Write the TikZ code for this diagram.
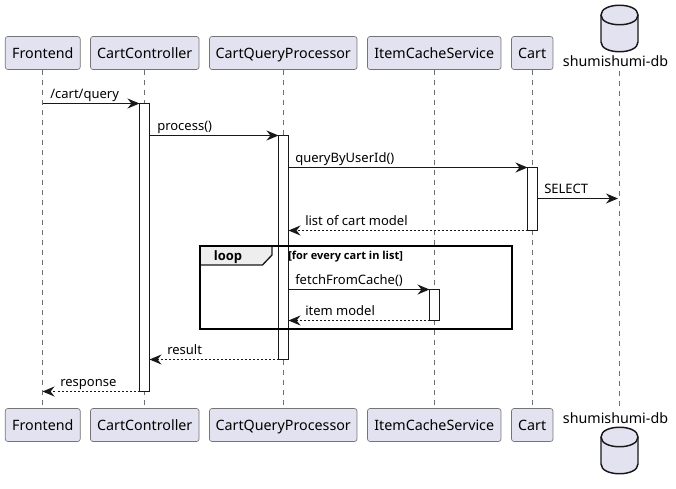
\documentclass[tikz,border=0pt]{standalone}
\usepackage{fontspec}
\setmainfont{Noto Sans}
\newfontfamily\boldface{Open Sans}[UprightFont=* Bold]
\usetikzlibrary{arrows.meta,positioning}
\definecolor{partfill}{HTML}{E2E2F0}
\definecolor{ink}{HTML}{181818}
\definecolor{tabfill}{HTML}{EEEEEE}
\definecolor{lifegray}{HTML}{707070}
\tikzset{
  x=0.75pt,y=-0.75pt,
  part/.style={draw=ink!60,line width=0.5pt,fill=partfill,rounded corners=1.9pt,minimum height=24.75pt,inner sep=0pt,text height=10pt,text depth=2.5pt,font=\fontsize{10.7pt}{12pt}\selectfont,text=black},
  dbshape/.style={draw=ink,line width=1.1pt,fill=partfill},
  dblabel/.style={font=\fontsize{10.7pt}{12pt}\selectfont,text=black,inner sep=0pt,anchor=base},
  life/.style={draw=lifegray,line width=0.5pt,dash pattern=on 3.75pt off 3.75pt},
  act/.style={draw=ink,line width=0.8pt,fill=white,minimum width=7.5pt,inner sep=0pt,outer sep=0pt},
  msg/.style={draw=ink,line width=0.8pt,-{Stealth[length=9pt,width=7.5pt,inset=3pt,fill=ink]}},
  ret/.style={msg,dash pattern=on 1.5pt off 1.5pt},
  lab/.style={font=\fontsize{9.75pt}{12pt}\selectfont,text=black,inner sep=0pt,anchor=base west},
  frameline/.style={draw=black,line width=1.5pt},
}
\begin{document}
\begin{tikzpicture}
\useasboundingbox (0,0) rectangle (676,489);
% participants
\node[part,minimum width=56.25pt] (f1) at (42.75,53) {Frontend};
\node[part,minimum width=81.4pt] (c1) at (144.75,53) {CartController};
\node[part,minimum width=110.6pt] (p1) at (283.25,53) {CartQueryProcessor};
\node[part,minimum width=100.1pt] (i1) at (434.25,53) {ItemCacheService};
\node[part,minimum width=31.1pt] (t1) at (532.25,53) {Cart};
\node[part,minimum width=56.25pt] (f2) at (42.75,425) {Frontend};
\node[part,minimum width=81.4pt] (c2) at (144.75,425) {CartController};
\node[part,minimum width=110.6pt] (p2) at (283.25,425) {CartQueryProcessor};
\node[part,minimum width=100.1pt] (i2) at (434.25,425) {ItemCacheService};
\node[part,minimum width=31.1pt] (t2) at (532.25,425) {Cart};
% database top and bottom
\path[dbshape] (601,15) .. controls (601,2) and (638,2) .. (638,15)
  -- (638,42) .. controls (638,55) and (601,55) .. (601,42) -- cycle;
\draw[dbshape,fill=none] (601,15) .. controls (601,28) and (638,28) .. (638,15);
\path[dbshape] (601,437) .. controls (601,424) and (638,424) .. (638,437)
  -- (638,464) .. controls (638,477) and (601,477) .. (601,464) -- cycle;
\draw[dbshape,fill=none] (601,437) .. controls (601,450) and (638,450) .. (638,437);
\node[dblabel] (d1) at (615.5,66) {shumishumi-db};
\node[dblabel] (d2) at (615.5,423.5) {shumishumi-db};
\coordinate (d1b) at (619.5,71);
\coordinate (d2t) at (619.5,408);
% lifelines
\draw[life] (f1) -- (f2);
\draw[life] (c1) -- (c2);
\draw[life] (p1) -- (p2);
\draw[life] (i1) -- (i2);
\draw[life] (t1) -- (t2);
\draw[life] (d1b) -- (d2t);
% activations
\node[act,minimum height=216pt] (ac) at (144.5,247.5) {};
\node[act,minimum height=168pt] (ap) at (283.5,247.5) {};
\node[act,minimum height=47.25pt] (at) at (532.5,199) {};
\node[act,minimum height=23.25pt] (ai) at (434.5,305) {};
% message ends
\coordinate (m1a) at (42.5,103.5);
\coordinate (m4b) at (618,198.5);
\coordinate (m10b) at (42.5,391.5);
% messages
\draw[msg] (m1a) -- (ac.north west);
\draw[msg] (ac.east |- ap.north) -- (ap.north west);
\draw[msg] (ap.east |- at.north) -- (at.north west);
\draw[msg] (at.east |- m4b) -- (m4b);
\draw[ret] (at.south west) -- (ap.east |- at.south);
\draw[msg] (ap.east |- ai.north) -- (ai.north west);
\draw[ret] (ai.south west) -- (ap.east |- ai.south);
\draw[ret] (ap.south west) -- (ac.east |- ap.south);
\draw[ret] (ac.south west) -- (m10b);
% labels
\node[lab] (l1) at (50,98.5) {/cart/query};
\node[lab] (l2) at (157,130.5) {process()};
\node[lab] (l3) at (295,162.5) {queryByUserId()};
\node[lab] (l4) at (544,193.5) {SELECT};
\node[lab] (l5) at (305,225.5) {list of cart model};
\node[lab] (l6) at (295,284) {fetchFromCache()};
\node[lab] (l7) at (305,315.5) {item model};
\node[lab] (l8) at (167,354.5) {result};
\node[lab] (l9) at (60,386.5) {response};
% loop frame
\path[fill=tabfill] (199.5,245.5) -- (272,245.5) -- (272,255) -- (262.5,265) -- (199.5,265) -- cycle;
\draw[line width=1pt,draw=ink] (272,245.5) -- (272,255) -- (262.5,265) -- (199.5,265);
\draw[frameline] (199.5,245.5) rectangle (511.5,328.5);
\node[font=\boldface\fontsize{9.75pt}{12pt}\selectfont,inner sep=0pt,anchor=base] (lp) at (228,260) {loop};
\node[font=\boldface\fontsize{8.25pt}{10pt}\selectfont,inner sep=0pt,anchor=base west] (gd) at (288,259.5) {[for every cart in list]};
\end{tikzpicture}
\end{document}
